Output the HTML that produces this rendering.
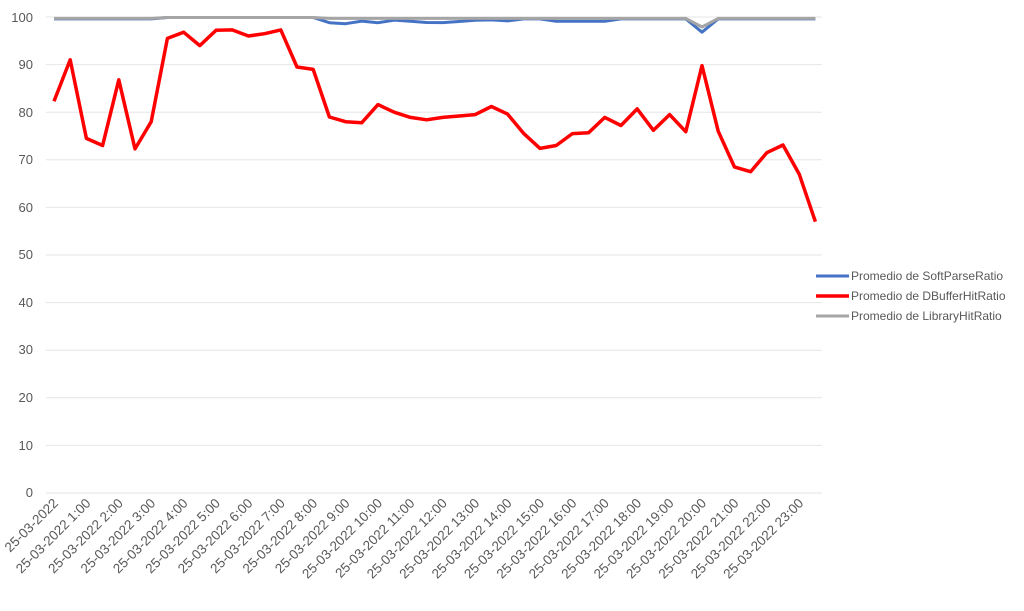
<!DOCTYPE html><html><head><meta charset="utf-8"><style>body{margin:0;background:#fff}svg{display:block;font-family:"Liberation Sans",sans-serif}</style></head><body>
<svg id="s" width="1024" height="611" xmlns="http://www.w3.org/2000/svg">
<g stroke="#e6e6e6" stroke-width="1">
<line x1="46" x2="822" y1="17" y2="17"/><line x1="46" x2="822" y1="64.6" y2="64.6"/><line x1="46" x2="822" y1="112.2" y2="112.2"/><line x1="46" x2="822" y1="159.8" y2="159.8"/><line x1="46" x2="822" y1="207.4" y2="207.4"/><line x1="46" x2="822" y1="255" y2="255"/><line x1="46" x2="822" y1="302.6" y2="302.6"/><line x1="46" x2="822" y1="350.2" y2="350.2"/><line x1="46" x2="822" y1="397.8" y2="397.8"/><line x1="46" x2="822" y1="445.4" y2="445.4"/><line x1="46" x2="822" y1="493" y2="493"/></g>
<g fill="#595959" font-size="13" text-anchor="end">
<text x="33" y="22">100</text><text x="33" y="69">90</text><text x="33" y="117">80</text><text x="33" y="164">70</text><text x="33" y="212">60</text><text x="33" y="259">50</text><text x="33" y="307">40</text><text x="33" y="354">30</text><text x="33" y="402">20</text><text x="33" y="450">10</text><text x="33" y="497">0</text></g>
<g fill="#595959" font-size="13.5" text-anchor="end">
<text transform="translate(59,504) rotate(-45)">25-03-2022</text>
<text transform="translate(91.4,504) rotate(-45)">25-03-2022 1:00</text>
<text transform="translate(123.8,504) rotate(-45)">25-03-2022 2:00</text>
<text transform="translate(156.2,504) rotate(-45)">25-03-2022 3:00</text>
<text transform="translate(188.6,504) rotate(-45)">25-03-2022 4:00</text>
<text transform="translate(221,504) rotate(-45)">25-03-2022 5:00</text>
<text transform="translate(253.4,504) rotate(-45)">25-03-2022 6:00</text>
<text transform="translate(285.8,504) rotate(-45)">25-03-2022 7:00</text>
<text transform="translate(318.2,504) rotate(-45)">25-03-2022 8:00</text>
<text transform="translate(350.6,504) rotate(-45)">25-03-2022 9:00</text>
<text transform="translate(383,504) rotate(-45)">25-03-2022 10:00</text>
<text transform="translate(415.4,504) rotate(-45)">25-03-2022 11:00</text>
<text transform="translate(447.8,504) rotate(-45)">25-03-2022 12:00</text>
<text transform="translate(480.2,504) rotate(-45)">25-03-2022 13:00</text>
<text transform="translate(512.6,504) rotate(-45)">25-03-2022 14:00</text>
<text transform="translate(545,504) rotate(-45)">25-03-2022 15:00</text>
<text transform="translate(577.4,504) rotate(-45)">25-03-2022 16:00</text>
<text transform="translate(609.8,504) rotate(-45)">25-03-2022 17:00</text>
<text transform="translate(642.2,504) rotate(-45)">25-03-2022 18:00</text>
<text transform="translate(674.6,504) rotate(-45)">25-03-2022 19:00</text>
<text transform="translate(707,504) rotate(-45)">25-03-2022 20:00</text>
<text transform="translate(739.4,504) rotate(-45)">25-03-2022 21:00</text>
<text transform="translate(771.8,504) rotate(-45)">25-03-2022 22:00</text>
<text transform="translate(804.2,504) rotate(-45)">25-03-2022 23:00</text>
</g>
<path id="blue" fill="none" stroke="#4472c4" stroke-width="3" stroke-linejoin="round"/>
<path id="gray" fill="none" stroke="#a5a5a5" stroke-width="3" stroke-linejoin="round"/>
<path id="red" fill="none" stroke="#ff0000" stroke-width="3.5" stroke-linejoin="round"/>
<line x1="816" x2="849" y1="276" y2="276" stroke="#4472c4" stroke-width="3"/>
<line x1="816" x2="849" y1="296" y2="296" stroke="#ff0000" stroke-width="3.5"/>
<line x1="816" x2="849" y1="316" y2="316" stroke="#a5a5a5" stroke-width="3"/>
<g fill="#595959" font-size="12"><text x="851" y="280">Promedio de SoftParseRatio</text><text x="851" y="300">Promedio de DBufferHitRatio</text><text x="851" y="320">Promedio de LibraryHitRatio</text></g>
</svg>
<script>
var red=[82.3,91,74.5,73,86.8,72.3,78,95.5,96.8,94,97.2,97.3,96,96.5,97.3,89.5,89,79,78,77.8,81.6,80,78.9,78.4,78.9,79.2,79.5,81.2,79.6,75.5,72.4,73,75.5,75.7,78.9,77.2,80.7,76.2,79.5,75.9,89.8,76,68.5,67.5,71.5,73.1,67,57];
var blue=[],gray=[];
for(var i=0;i<48;i++){var b=99.6,g=99.7;if(i>=7&&i<=16){b=99.9;g=99.9}
if(i>=17&&i<=28){b=99.1+0.3*Math.sin(i);}if(i==18)b=98.6;if(i==20)b=98.8;if(i>=31&&i<=34)b=99.1;if(i==40){b=96.8;g=97.9}blue.push(b);gray.push(g)}
function p(a){return a.map(function(v,i){return (i?'L':'M')+(54+16.2*i).toFixed(1)+' '+(493-4.76*v).toFixed(1)}).join(' ')}
document.getElementById('red').setAttribute('d',p(red));
document.getElementById('blue').setAttribute('d',p(blue));
document.getElementById('gray').setAttribute('d',p(gray));
</script>
</body></html>
